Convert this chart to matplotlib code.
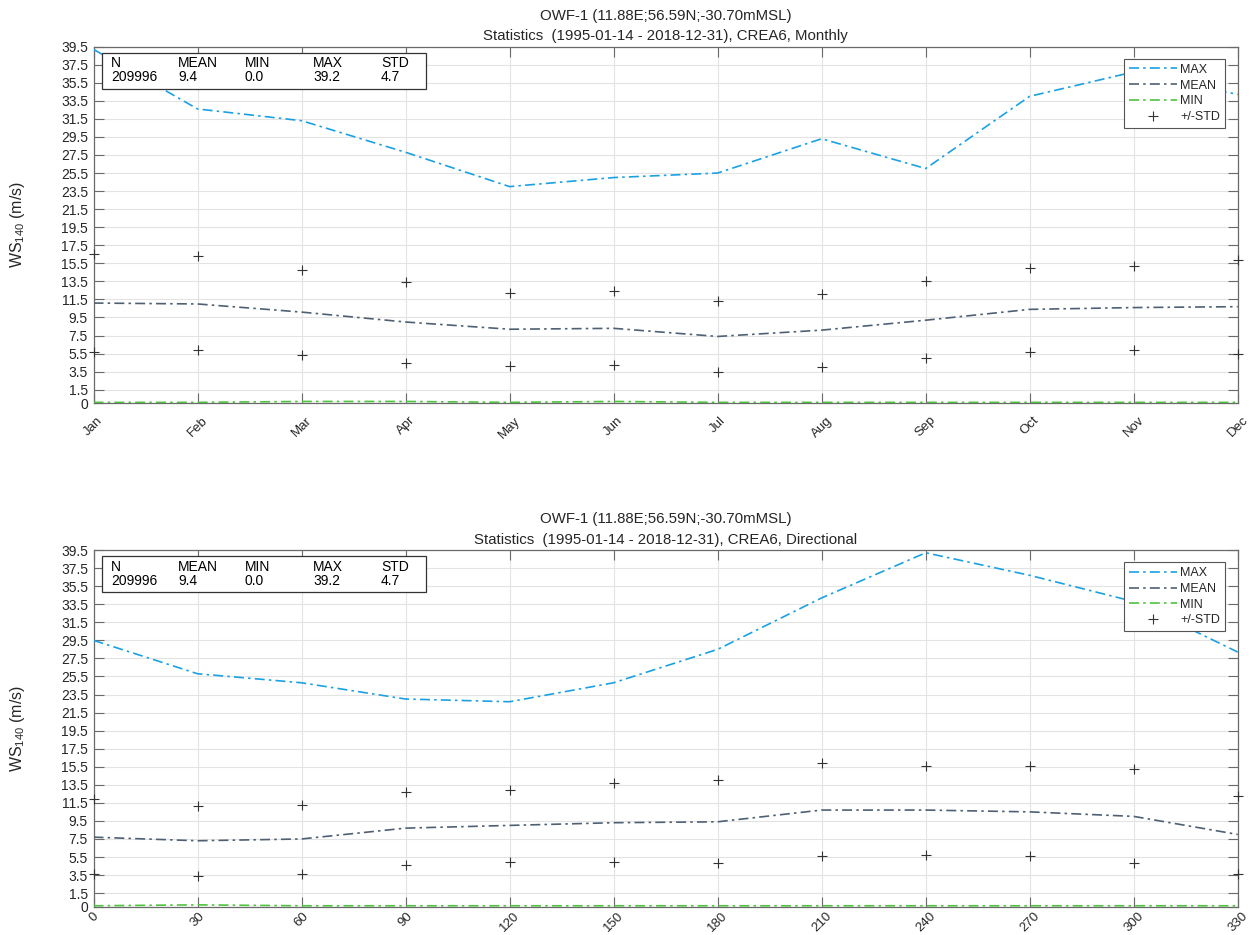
import matplotlib
matplotlib.use("Agg")
import matplotlib.pyplot as plt
from matplotlib.patches import Rectangle

plt.rcParams['font.family'] = ['Liberation Sans', 'DejaVu Sans']
plt.rcParams['mathtext.fontset'] = 'custom'
plt.rcParams['mathtext.rm'] = 'Liberation Sans'
plt.rcParams['mathtext.it'] = 'Liberation Sans:italic'

# ---- data -------------------------------------------------------------
months = ['Jan', 'Feb', 'Mar', 'Apr', 'May', 'Jun',
          'Jul', 'Aug', 'Sep', 'Oct', 'Nov', 'Dec']
mon_max = [39.2, 32.6, 31.3, 27.8, 24.0, 25.0, 25.5, 29.3, 26.0, 34.0, 36.7, 34.2]
mon_mean = [11.1, 11.0, 10.1, 9.0, 8.2, 8.3, 7.4, 8.1, 9.2, 10.4, 10.6, 10.7]
mon_min = [0.1, 0.1, 0.2, 0.2, 0.1, 0.2, 0.1, 0.1, 0.1, 0.1, 0.1, 0.1]
mon_std_hi = [16.5, 16.3, 14.8, 13.4, 12.2, 12.4, 11.3, 12.1, 13.5, 15.0, 15.2, 15.9]
mon_std_lo = [5.7, 5.9, 5.3, 4.5, 4.1, 4.2, 3.5, 4.0, 5.0, 5.7, 5.9, 5.5]

directions = [0, 30, 60, 90, 120, 150, 180, 210, 240, 270, 300, 330]
dir_max = [29.5, 25.8, 24.8, 23.0, 22.7, 24.8, 28.5, 34.2, 39.2, 36.7, 33.8, 28.2]
dir_mean = [7.7, 7.3, 7.5, 8.7, 9.0, 9.3, 9.4, 10.7, 10.7, 10.5, 10.0, 8.0]
dir_min = [0.1, 0.2, 0.1, 0.1, 0.1, 0.1, 0.1, 0.1, 0.1, 0.1, 0.1, 0.1]
dir_std_hi = [11.9, 11.1, 11.3, 12.7, 12.9, 13.7, 14.0, 15.9, 15.6, 15.6, 15.2, 12.3]
dir_std_lo = [3.6, 3.4, 3.6, 4.6, 5.0, 5.0, 4.8, 5.6, 5.7, 5.6, 4.8, 3.6]

yticks = [0, 1.5, 3.5, 5.5, 7.5, 9.5, 11.5, 13.5, 15.5, 17.5, 19.5, 21.5,
          23.5, 25.5, 27.5, 29.5, 31.5, 33.5, 35.5, 37.5, 39.5]

stat_heads = ['N', 'MEAN', 'MIN', 'MAX', 'STD']
stat_vals = ['209996', '9.4', '0.0', '39.2', '4.7']

title1 = 'OWF-1 (11.88E;56.59N;-30.70mMSL)'
title2_mon = 'Statistics  (1995-01-14 - 2018-12-31), CREA6, Monthly'
title2_dir = 'Statistics  (1995-01-14 - 2018-12-31), CREA6, Directional'

# ---- style ------------------------------------------------------------
c_max = '#1ba1e2'
c_mean = '#4f6073'
c_min = '#4fc23f'
c_marker = '#333333'
c_axis = '#6a6a6a'
c_text = '#262626'
dash = (0, (6, 2.5, 1.5, 2.5))
fs = 10

fig = plt.figure(figsize=(12.5, 9.35), dpi=100)
ax_top = fig.add_axes([0.0748, 0.5687, 0.9154, 0.3814])
ax_bot = fig.add_axes([0.0748, 0.0303, 0.9154, 0.3814])


def draw(ax, x, xlabels, vmax, vmean, vmin, shi, slo, title2, xpad):
    ax.plot(x, vmax, color=c_max, lw=1.2, linestyle=dash, label='MAX', zorder=3)
    ax.plot(x, vmean, color=c_mean, lw=1.2, linestyle=dash, label='MEAN', zorder=3)
    ax.plot(x, vmin, color=c_min, lw=1.2, linestyle=dash, label='MIN', zorder=3)
    ax.plot(x, shi, linestyle='none', marker='+', ms=7.5, mew=0.8,
            color=c_marker, label='+/-STD', clip_on=False, zorder=4)
    ax.plot(x, slo, linestyle='none', marker='+', ms=7.5, mew=0.8,
            color=c_marker, clip_on=False, zorder=4)

    ax.set_xlim(x[0], x[-1])
    ax.set_ylim(0, 39.5)
    ax.set_xticks(x)
    ax.set_xticklabels(xlabels, rotation=45, ha='center', fontsize=fs - 0.5,
                       color=c_text)
    ax.set_yticks(yticks)
    ax.set_yticklabels([('%g' % v) if v == 0 else ('%.1f' % v) for v in yticks],
                       fontsize=fs, color=c_text)
    ax.tick_params(axis='both', direction='in', length=7, width=0.8,
                   color=c_axis, top=True, right=True)
    ax.tick_params(axis='x', pad=xpad)
    ax.tick_params(axis='y', pad=4)
    for s in ax.spines.values():
        s.set_color(c_axis)
        s.set_linewidth(0.9)
    ax.grid(True, color='#e3e3e3', linewidth=0.8)
    ax.set_axisbelow(True)

    ax.set_ylabel(r'WS$_{140}$ (m/s)', fontsize=11.5, color=c_text)
    ax.yaxis.set_label_coords(-0.058, 0.5)

    ax.text(0.5, 1.087, title1, transform=ax.transAxes, ha='center',
            va='center', fontsize=10.8, color=c_text)
    ax.text(0.5, 1.029, title2, transform=ax.transAxes, ha='center',
            va='center', fontsize=10.8, color=c_text)

    # summary statistics box
    ax.add_patch(Rectangle((0.0074, 0.881), 0.2832, 0.101, transform=ax.transAxes,
                           facecolor='white', edgecolor='#333333', lw=0.9,
                           zorder=5))
    xs = [0.0153, 0.0738, 0.1324, 0.1918, 0.2513]
    for xc, h, v in zip(xs, stat_heads, stat_vals):
        ax.text(xc, 0.953, h, transform=ax.transAxes, ha='left', va='center',
                fontsize=fs, color='black', zorder=6)
        ax.text(xc, 0.914, v, transform=ax.transAxes, ha='left', va='center',
                fontsize=fs, color='black', zorder=6)

    leg = ax.legend(loc='upper right', bbox_to_anchor=(0.989, 0.966),
                    borderaxespad=0, fontsize=9, handlelength=3.8,
                    handletextpad=0.3, labelspacing=0.3, borderpad=0.4,
                    fancybox=False, framealpha=1, edgecolor='#555555')
    leg.get_frame().set_linewidth(0.8)
    for t in leg.get_texts():
        t.set_color(c_text)
    leg.set_zorder(6)


draw(ax_top, list(range(len(months))), months, mon_max, mon_mean, mon_min,
     mon_std_hi, mon_std_lo, title2_mon, 8)
draw(ax_bot, directions, [str(d) for d in directions], dir_max, dir_mean,
     dir_min, dir_std_hi, dir_std_lo, title2_dir, 2.5)

fig.savefig('out.png', dpi=100)
